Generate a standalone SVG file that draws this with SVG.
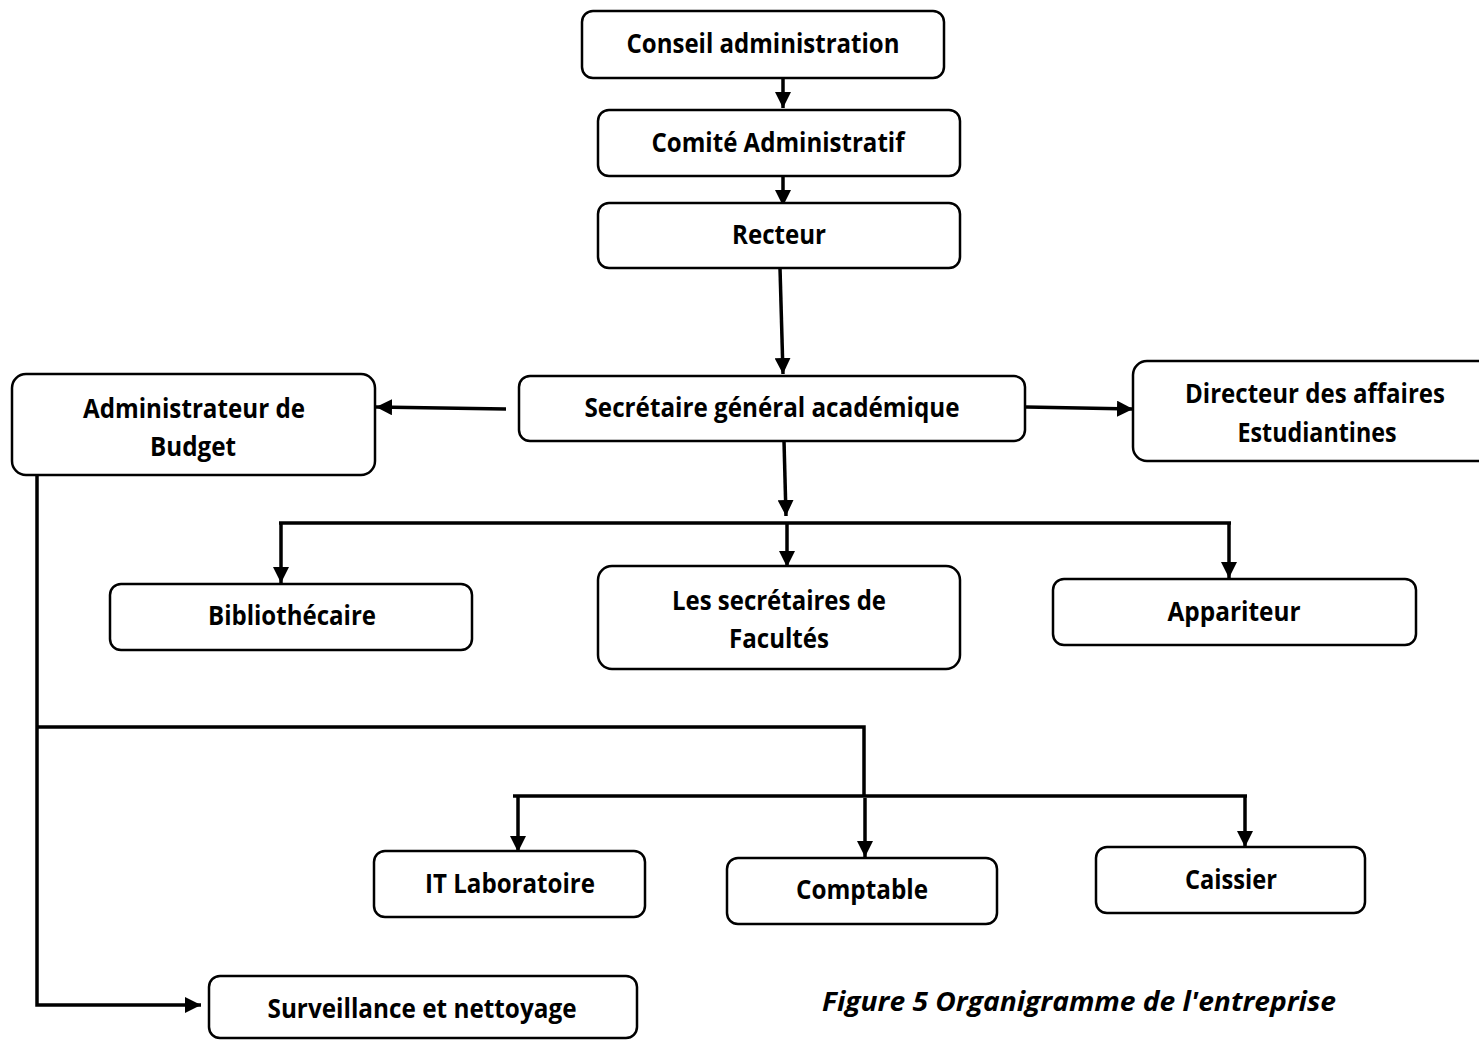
<svg xmlns="http://www.w3.org/2000/svg" width="1479" height="1040" viewBox="0 0 1479 1040">
  <style>
    .box { fill: #ffffff; stroke: #000000; stroke-width: 2.5; }
    .lbl { font-family: "Open Sans", "Liberation Sans", sans-serif; font-weight: bold; font-size: 26.5px; fill: #000000; text-anchor: middle; }
    .cap { font-family: "Open Sans", "Liberation Sans", sans-serif; font-weight: bold; font-style: italic; font-size: 26.5px; fill: #000000; text-anchor: middle; }
    .wire { fill: none; stroke: #000000; stroke-width: 3.5; stroke-linecap: butt; stroke-linejoin: miter; }
  </style>
  <defs>
    <marker id="arrow" viewBox="0 0 16 16" refX="16" refY="8" markerWidth="16" markerHeight="16" markerUnits="userSpaceOnUse" orient="auto">
      <path d="M0,0 L16,8 L0,16 Z" fill="#000000"/>
    </marker>
  </defs>
  <rect width="1479" height="1040" fill="#ffffff"/>

  <!-- connectors -->
  <g id="connectors">
    <path class="wire" d="M783,78 L783,108" marker-end="url(#arrow)"/>
    <path class="wire" d="M783,176 L783,206" marker-end="url(#arrow)"/>
    <path class="wire" d="M780,268 L783,374" marker-end="url(#arrow)"/>
    <path class="wire" d="M506,409 L376,407" marker-end="url(#arrow)"/>
    <path class="wire" d="M1026,407 L1133,409" marker-end="url(#arrow)"/>
    <path class="wire" d="M784,441 L786,516" marker-end="url(#arrow)"/>
    <path class="wire" d="M279,523 L1231,523"/>
    <path class="wire" d="M281,522 L281,583" marker-end="url(#arrow)"/>
    <path class="wire" d="M787,523 L787,567" marker-end="url(#arrow)"/>
    <path class="wire" d="M1229,522 L1229,578" marker-end="url(#arrow)"/>
    <path class="wire" d="M37,475 L37,1005 L201,1005" marker-end="url(#arrow)"/>
    <path class="wire" d="M37,727 L864,727 L864,796"/>
    <path class="wire" d="M513,796 L1247,796"/>
    <path class="wire" d="M518,795 L518,852" marker-end="url(#arrow)"/>
    <path class="wire" d="M865,798 L865,857" marker-end="url(#arrow)"/>
    <path class="wire" d="M1245,795 L1245,847" marker-end="url(#arrow)"/>
  </g>

  <!-- nodes -->
  <g id="conseil">
    <rect class="box" x="582" y="11" width="362" height="67" rx="11"/>
    <text class="lbl" x="763" y="53" textLength="273" lengthAdjust="spacingAndGlyphs">Conseil administration</text>
  </g>
  <g id="comite">
    <rect class="box" x="598" y="110" width="362" height="66" rx="11"/>
    <text class="lbl" x="778" y="152" textLength="253" lengthAdjust="spacingAndGlyphs">Comité Administratif</text>
  </g>
  <g id="recteur">
    <rect class="box" x="598" y="203" width="362" height="65" rx="11"/>
    <text class="lbl" x="779" y="244" textLength="94" lengthAdjust="spacingAndGlyphs">Recteur</text>
  </g>
  <g id="secretaire-general">
    <rect class="box" x="519" y="376" width="506" height="65" rx="11"/>
    <text class="lbl" x="772" y="417" textLength="375" lengthAdjust="spacingAndGlyphs">Secrétaire général académique</text>
  </g>
  <g id="admin-budget">
    <rect class="box" x="12" y="374" width="363" height="101" rx="14"/>
    <text class="lbl" x="194" y="418" textLength="222" lengthAdjust="spacingAndGlyphs">Administrateur de</text>
    <text class="lbl" x="193" y="456" textLength="86" lengthAdjust="spacingAndGlyphs">Budget</text>
  </g>
  <g id="directeur">
    <rect class="box" x="1133" y="361" width="360" height="100" rx="14"/>
    <text class="lbl" x="1315" y="403" textLength="260" lengthAdjust="spacingAndGlyphs">Directeur des affaires</text>
    <text class="lbl" x="1317" y="442" textLength="159" lengthAdjust="spacingAndGlyphs">Estudiantines</text>
  </g>
  <g id="bibliothecaire">
    <rect class="box" x="110" y="584" width="362" height="66" rx="11"/>
    <text class="lbl" x="292" y="625" textLength="168" lengthAdjust="spacingAndGlyphs">Bibliothécaire</text>
  </g>
  <g id="secretaires-facultes">
    <rect class="box" x="598" y="566" width="362" height="103" rx="14"/>
    <text class="lbl" x="779" y="610" textLength="214" lengthAdjust="spacingAndGlyphs">Les secrétaires de</text>
    <text class="lbl" x="779" y="648" textLength="100" lengthAdjust="spacingAndGlyphs">Facultés</text>
  </g>
  <g id="appariteur">
    <rect class="box" x="1053" y="579" width="363" height="66" rx="11"/>
    <text class="lbl" x="1234" y="621" textLength="133" lengthAdjust="spacingAndGlyphs">Appariteur</text>
  </g>
  <g id="it-laboratoire">
    <rect class="box" x="374" y="851" width="271" height="66" rx="11"/>
    <text class="lbl" x="510" y="893" textLength="170" lengthAdjust="spacingAndGlyphs">IT Laboratoire</text>
  </g>
  <g id="comptable">
    <rect class="box" x="727" y="858" width="270" height="66" rx="11"/>
    <text class="lbl" x="862" y="899" textLength="132" lengthAdjust="spacingAndGlyphs">Comptable</text>
  </g>
  <g id="caissier">
    <rect class="box" x="1096" y="847" width="269" height="66" rx="11"/>
    <text class="lbl" x="1231" y="889" textLength="92" lengthAdjust="spacingAndGlyphs">Caissier</text>
  </g>
  <g id="surveillance">
    <rect class="box" x="209" y="976" width="428" height="62" rx="11"/>
    <text class="lbl" x="422" y="1018" textLength="309" lengthAdjust="spacingAndGlyphs">Surveillance et nettoyage</text>
  </g>

  <text class="cap" x="1079" y="1011" textLength="514" lengthAdjust="spacingAndGlyphs">Figure 5 Organigramme de l'entreprise</text>
</svg>
